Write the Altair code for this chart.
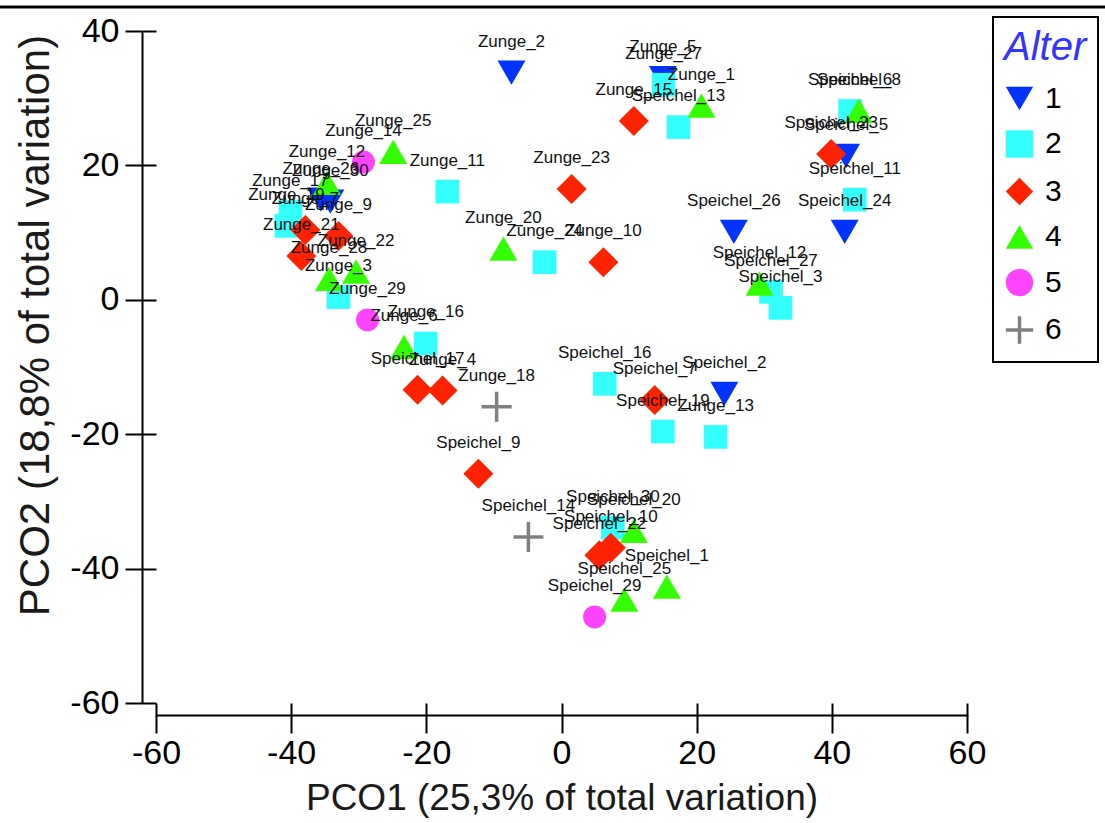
import altair as alt
import pandas as pd

# ---- data ----
sample_labels = [
    "Zunge_2", "Zunge_5", "Zunge_26", "Zunge_30", "Speichel_26", "Speichel_24", "Speichel_5", "Speichel_2",
    "Zunge_27", "Speichel_13", "Zunge_11", "Zunge_17", "Zunge_19", "Zunge_3", "Zunge_16", "Zunge_24",
    "Speichel_11", "Speichel_6", "Speichel_27", "Speichel_3", "Speichel_16", "Speichel_19", "Zunge_13", "Speichel_30",
    "Zunge_15", "Zunge_23", "Zunge_10", "Zunge_7", "Zunge_9", "Zunge_21", "Speichel_17", "Zunge_4",
    "Speichel_9", "Speichel_23", "Speichel_7", "Speichel_22", "Speichel_10",
    "Zunge_1", "Zunge_25", "Zunge_12", "Zunge_28", "Zunge_22", "Zunge_20", "Zunge_6", "Speichel_8",
    "Speichel_12", "Speichel_20", "Speichel_1", "Speichel_25",
    "Zunge_14", "Zunge_29", "Speichel_29",
    "Zunge_18", "Speichel_14",
]
pco1 = [
    -7.4, 15.0, -35.6, -34.2, 25.5, 41.9, 42.1, 24.1,
    15.1, 17.3, -16.9, -40.1, -40.7, -33.0, -20.1, -2.5,
    43.4, 42.7, 31.0, 32.4, 6.4, 15.0, 22.8, 7.6,
    10.7, 1.5, 6.2, -37.9, -33.0, -38.5, -21.3, -17.6,
    -12.3, 39.9, 13.8, 5.6, 7.3,
    20.7, -24.9, -34.7, -34.4, -30.4, -8.6, -23.3, 44.0,
    29.3, 10.7, 15.6, 9.3,
    -29.3, -28.7, 4.9,
    -9.6, -4.9,
]
pco2 = [
    33.8, 33.0, 14.9, 14.6, 10.1, 10.1, 21.4, -14.0,
    32.0, 25.7, 16.1, 13.1, 11.0, 0.4, -6.5, 5.6,
    14.9, 28.1, 1.2, -1.2, -12.5, -19.6, -20.4, -33.9,
    26.6, 16.5, 5.6, 10.4, 9.5, 6.5, -13.4, -13.5,
    -25.9, 21.7, -14.9, -38.0, -36.9,
    28.9, 22.0, 17.4, 3.1, 4.2, 7.6, -7.0, 28.1,
    2.4, -34.4, -42.7, -44.6,
    20.5, -3.0, -47.2,
    -15.9, -35.3,
]
alter = (["1"] * 8 + ["2"] * 16 + ["3"] * 13 + ["4"] * 12 + ["5"] * 3 + ["6"] * 2)

alter_levels = ["1", "2", "3", "4", "5", "6"]
fill_colors = ["#0033ff", "#33ffff", "#ff2200", "#33ff00", "#ff44ff", "transparent"]
stroke_colors = ["transparent", "transparent", "transparent", "transparent", "transparent", "#808080"]
shapes = ["triangle-down", "square", "diamond", "triangle-up", "circle", "M-1,0L1,0M0,-1L0,1"]
sizes = [784, 560, 900, 784, 529, 900]
x_ticks = [-60, -40, -20, 0, 20, 40, 60]
y_ticks = [-60, -40, -20, 0, 20, 40]

df = pd.DataFrame({"label": sample_labels, "x": pco1, "y": pco2, "Alter": alter})
df["sym_size"] = df["Alter"].map(dict(zip(alter_levels, sizes)))

FONT = "Liberation Sans"
xscale = alt.Scale(domain=[-60, 60], nice=False, zero=False)
yscale = alt.Scale(domain=[-60, 40], nice=False, zero=False)

main_x_axis = alt.Axis(orient="bottom", values=x_ticks, offset=12, tickSize=18, tickWidth=2,
                       tickColor="black", domainWidth=2, domainColor="black",
                       labelFontSize=34, labelFont=FONT, labelColor="black", labelPadding=3,
                       labelFlush=False, labelOverlap=False, grid=False,
                       labelExpr="'' + datum.value",
                       title="PCO1 (25,3% of total variation)", titleFontSize=37, titleFont=FONT,
                       titleFontWeight="normal", titleColor="#1a1a1a", titlePadding=10)
main_y_axis = alt.Axis(orient="left", values=y_ticks, offset=14, tickSize=17, tickWidth=2,
                       tickColor="black", domainWidth=2, domainColor="black",
                       labelFontSize=34, labelFont=FONT, labelColor="black", labelPadding=6,
                       labelFlush=False, labelOverlap=False, grid=False,
                       labelExpr="'' + datum.value",
                       title="PCO2 (18,8% of total variation)", titleFontSize=42, titleFont=FONT,
                       titleFontWeight="normal", titleColor="#1a1a1a", titlePadding=12,
                       titleY=294)
inner_x_axis = alt.Axis(orient="bottom", values=x_ticks, offset=0, tickSize=13, tickWidth=2,
                        tickColor="black", domain=False, labels=False, grid=False)
inner_y_axis = alt.Axis(orient="left", values=y_ticks, offset=0, tickSize=14, tickWidth=2,
                        tickColor="black", domain=False, labels=False, grid=False)

leg = alt.Legend(title="Alter", orient="none", legendX=837, legendY=-14)

points = alt.Chart(df).mark_point(filled=True, opacity=1, strokeWidth=3.5).encode(
    x=alt.X("x:Q", scale=xscale, axis=main_x_axis),
    y=alt.Y("y:Q", scale=yscale, axis=main_y_axis),
    fill=alt.Fill("Alter:N", scale=alt.Scale(domain=alter_levels, range=fill_colors), legend=leg),
    stroke=alt.Stroke("Alter:N", scale=alt.Scale(domain=alter_levels, range=stroke_colors), legend=leg),
    shape=alt.Shape("Alter:N", scale=alt.Scale(domain=alter_levels, range=shapes), legend=leg),
    size=alt.Size("sym_size:Q", scale=None),
)

labels = alt.Chart(df).mark_text(dy=-31, fontSize=17, font=FONT, color="#111111",
                                 align="center", baseline="middle").encode(
    x=alt.X("x:Q", scale=xscale, axis=inner_x_axis, title=None),
    y=alt.Y("y:Q", scale=yscale, axis=inner_y_axis, title=None),
    text="label:N",
)

border = alt.Chart(pd.DataFrame({"k": [0]})).mark_rule(color="black", strokeWidth=3).encode(
    x=alt.value(-156), x2=alt.value(949), y=alt.value(-24)
)

chart = alt.layer(points, labels, border).resolve_axis(
    x="independent", y="independent"
).properties(
    width=811, height=672,
    autosize=alt.AutoSizeParams(type="none"),
    padding={"left": 156, "top": 31, "right": 138, "bottom": 120},
).configure_view(strokeWidth=0).configure_legend(
    padding=11, strokeColor="black", strokeWidth=2,
    titleFontSize=40, titleFontStyle="italic", titleColor="#3333ff", titleFont=FONT,
    titleFontWeight="normal", titlePadding=15,
    labelFontSize=30, labelFont=FONT, labelColor="black", labelOffset=10,
    symbolSize=750, symbolStrokeWidth=3.5, rowPadding=4.5,
)

chart.save("out.html", embed_options={"renderer": "svg", "actions": False})
